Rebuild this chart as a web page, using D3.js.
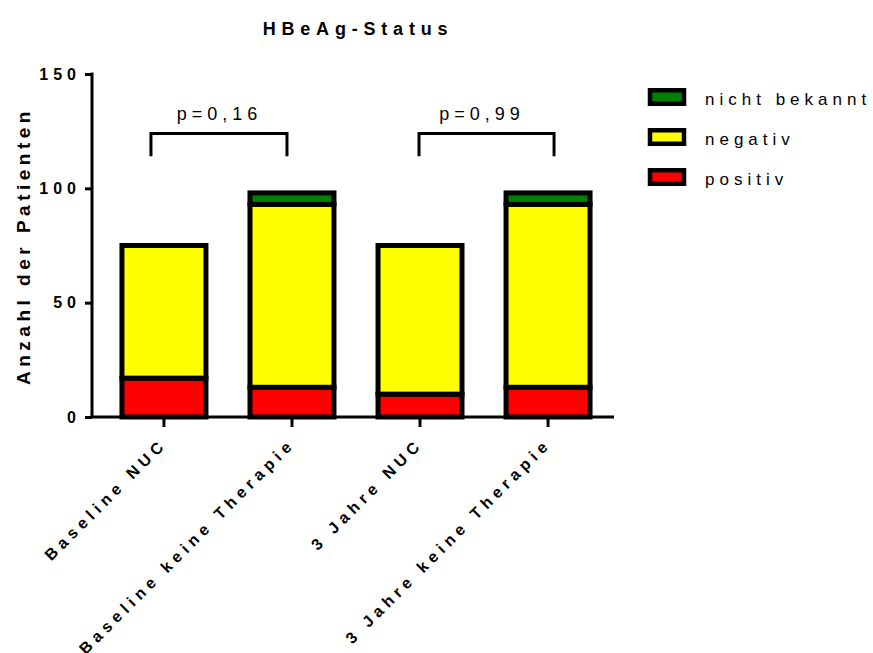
<!DOCTYPE html>
<html>
<head>
<meta charset="utf-8">
<script src="https://cdn.jsdelivr.net/npm/d3@7"></script>
<style>
  body { margin: 0; background: #fff; }
  svg { display: block; font-family: "Liberation Sans", Arial, sans-serif; }
</style>
</head>
<body>
<svg id="chart" width="873" height="653"></svg>
<script>
// Patient counts per group, stacked bottom to top
const categories = ["Baseline NUC", "Baseline keine Therapie", "3 Jahre NUC", "3 Jahre keine Therapie"];
const positiv = [17, 13, 10, 13];
const negativ = [58, 80, 65, 80];
const nichtBekannt = [0, 5, 0, 5];
const seriesNames = ["positiv", "negativ", "nicht bekannt"];
const seriesColors = ["#ff0000", "#ffff00", "#008000"];
const yTicks = [0, 50, 100, 150];
// Significance brackets between pairs of groups
const pFrom = [0, 2];
const pTo = [1, 3];
const pLabels = ["p=0,16", "p=0,99"];
const pLevel = 124;

const svg = d3.select("#chart");
const rows = categories.map((c, i) => ({
  cat: c, "positiv": positiv[i], "negativ": negativ[i], "nicht bekannt": nichtBekannt[i]
}));
const stacked = d3.stack().keys(seriesNames)(rows);

const x = d3.scaleBand().domain(categories).range([92, 620]).paddingInner(0.344).paddingOuter(0.234);
const y = d3.scaleLinear().domain([0, 150]).range([417, 74]);
const color = d3.scaleOrdinal().domain(seriesNames).range(seriesColors);

// Bars
svg.append("g").selectAll("g").data(stacked).join("g")
  .attr("fill", d => color(d.key))
  .selectAll("rect").data(d => d.filter(s => s[1] - s[0] > 0)).join("rect")
  .attr("x", d => x(d.data.cat))
  .attr("y", d => y(d[1]))
  .attr("width", x.bandwidth())
  .attr("height", d => y(d[0]) - y(d[1]))
  .attr("stroke", "#000")
  .attr("stroke-width", 5);

// Y axis
const yAxis = svg.append("g").attr("transform", "translate(92,0)")
  .call(d3.axisLeft(y).tickValues(yTicks).tickSize(7).tickPadding(4));
yAxis.select(".domain").attr("stroke-width", 3).attr("d", `M0,${y(150) - 1.5}V${y(0)}`);
yAxis.selectAll(".tick line").attr("stroke-width", 3);
yAxis.selectAll(".tick text").attr("font-size", 16).attr("font-weight", "bold")
  .attr("letter-spacing", "5px").attr("fill", "#000");

// X axis
const xAxis = svg.append("g").attr("transform", `translate(0,${y(0)})`)
  .call(d3.axisBottom(x).tickSize(10).tickFormat(""));
xAxis.select(".domain").attr("stroke-width", 3).attr("d", `M90.5,0H614`);
xAxis.selectAll(".tick line").attr("stroke-width", 3);

svg.append("g").selectAll("text").data(categories).join("text")
  .attr("transform", d => `translate(${x(d) + x.bandwidth() / 2 + 4},${y(0) + 28}) rotate(-45)`)
  .attr("text-anchor", "end")
  .attr("font-size", 16).attr("font-weight", "bold").attr("letter-spacing", "5px")
  .text(d => d);

// Brackets: leg insets from the bar centres and label shift for each pair
const legInset = [[-13, -5], [-1, 6]];
const labelShift = [-2, -7];
const cx = i => x(categories[i]) + x.bandwidth() / 2;
const br = svg.append("g");
pLabels.forEach((label, k) => {
  const x1 = cx(pFrom[k]) + legInset[k][0], x2 = cx(pTo[k]) + legInset[k][1];
  br.append("path")
    .attr("d", `M${x1},${y(pLevel - 10)}V${y(pLevel)}H${x2}V${y(pLevel - 10)}`)
    .attr("fill", "none").attr("stroke", "#000").attr("stroke-width", 3);
  br.append("text")
    .attr("x", (x1 + x2) / 2 + labelShift[k] + 2.5).attr("y", y(pLevel) - 13)
    .attr("text-anchor", "middle").attr("font-size", 18).attr("letter-spacing", "5px")
    .text(label);
});

// Title
svg.append("text").attr("x", 358).attr("y", 35).attr("text-anchor", "middle")
  .attr("font-size", 18).attr("font-weight", "bold").attr("letter-spacing", "5.8px")
  .text("HBeAg-Status");

// Y label
svg.append("text").attr("transform", "translate(30,246) rotate(-90)")
  .attr("text-anchor", "middle").attr("font-size", 19).attr("font-weight", "bold")
  .attr("letter-spacing", "4.5px").text("Anzahl der Patienten");

// Legend (top series first)
const legendOrder = seriesNames.slice().reverse();
const lg = svg.append("g").selectAll("g").data(legendOrder).join("g")
  .attr("transform", (d, i) => `translate(650,${97 + i * 40})`);
lg.append("rect").attr("y", -6.75).attr("width", 34).attr("height", 13.5)
  .attr("fill", d => color(d)).attr("stroke", "#000").attr("stroke-width", 4.5);
lg.append("text").attr("x", 55).attr("y", 8).attr("font-size", 17)
  .attr("letter-spacing", "5px").text(d => d);
</script>
</body>
</html>
